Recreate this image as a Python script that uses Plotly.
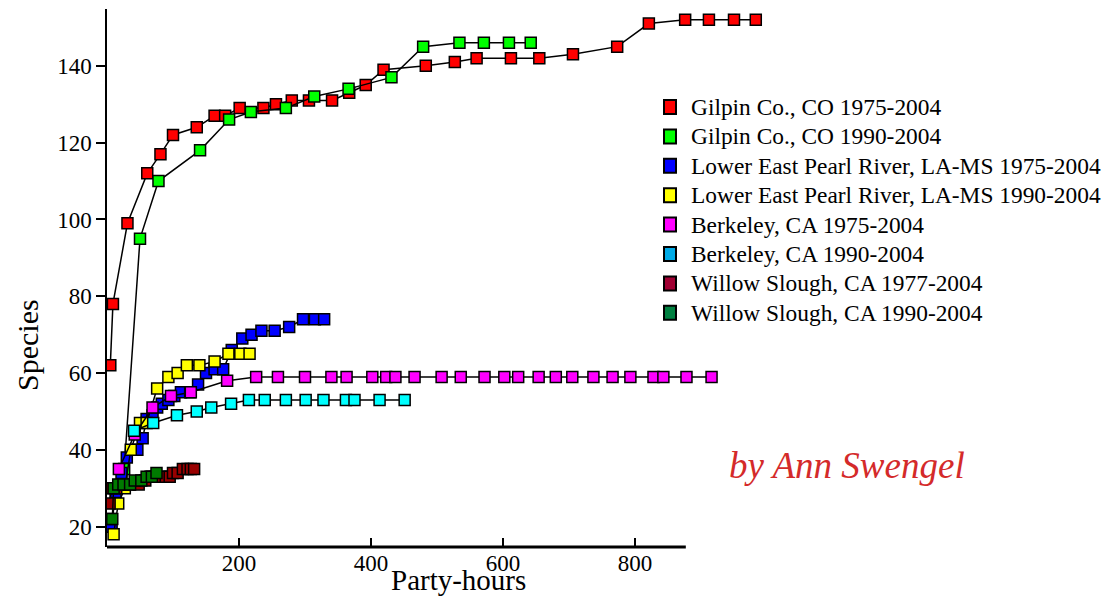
import plotly.graph_objects as go

# ---------------- data ----------------
gilpin75_x = [5, 9, 31, 61, 81, 100, 136, 163, 179, 201, 237, 256, 280, 306, 341, 367, 392, 419,
              483, 527, 560, 612, 655, 706, 773, 821, 876, 912, 950, 983]
gilpin75_y = [62, 78, 99, 112, 117, 122, 124, 127, 127, 129, 129, 130, 131, 131, 131, 133, 135, 139,
              140, 141, 142, 142, 142, 143, 145, 151, 152, 152, 152, 152]

gilpin90_x = [26, 50, 78, 141, 185, 218, 271, 314, 366, 431, 479, 534, 571, 609, 642]
gilpin90_y = [35, 95, 110, 118, 126, 128, 129, 132, 134, 137, 145, 146, 146, 146, 146]

pearl75_x = [7, 13, 22, 30, 46, 54, 60, 69, 76, 83, 93, 102, 112, 126, 138, 150, 163, 176, 189,
             205, 219, 234, 254, 276, 297, 315, 329]
pearl75_y = [20, 29, 34, 38, 40, 43, 48, 49, 51, 52, 53, 54, 55, 55, 57, 60, 61, 61, 66,
             69, 70, 71, 71, 72, 74, 74, 74]

pearl90_x = [10, 17, 27, 36, 50, 60, 76, 93, 107, 121, 140, 163, 184, 202, 216]
pearl90_y = [18, 26, 30, 40, 47, 47, 56, 59, 60, 62, 62, 63, 65, 65, 65]

berk75_x = [18, 42, 69, 97, 127, 182, 226, 259, 300, 340, 363, 402, 423, 437, 466, 507, 536, 572,
            602, 623, 654, 680, 705, 737, 766, 793, 828, 843, 878, 916]
berk75_y = [35, 44, 51, 54, 55, 58, 59, 59, 59, 59, 59, 59, 59, 59, 59, 59, 59, 59,
            59, 59, 59, 59, 59, 59, 59, 59, 59, 59, 59, 59]

berk90_x = [41, 70, 106, 136, 158, 188, 215, 239, 271, 301, 328, 362, 375, 413, 451]
berk90_y = [45, 47, 49, 50, 51, 52, 53, 53, 53, 53, 53, 53, 53, 53, 53]

willow77_x = [4, 7, 14, 24, 34, 48, 58, 66, 74, 83, 89, 95, 100, 107, 115, 122, 127, 132]
willow77_y = [26, 30, 30, 31, 31, 31, 32, 33, 33, 33, 33, 33, 34, 34, 35, 35, 35, 35]

willow90_x = [4, 8, 10, 17, 25, 35, 42, 52, 60, 68, 75]
willow90_y = [22, 22, 30, 31, 31, 31, 32, 32, 33, 33, 34]

names = ["Gilpin Co., CO 1975-2004", "Gilpin Co., CO 1990-2004",
         "Lower East Pearl River, LA-MS 1975-2004", "Lower East Pearl River, LA-MS 1990-2004",
         "Berkeley, CA 1975-2004", "Berkeley, CA 1990-2004",
         "Willow Slough, CA 1977-2004", "Willow Slough, CA 1990-2004"]
xs = [gilpin75_x, gilpin90_x, pearl75_x, pearl90_x, berk75_x, berk90_x, willow77_x, willow90_x]
ys = [gilpin75_y, gilpin90_y, pearl75_y, pearl90_y, berk75_y, berk90_y, willow77_y, willow90_y]
colors = ["#ff0000", "#00ff00", "#0000ff", "#ffff00", "#ff00ff", "#00ffff", "#990000", "#007a00"]
legend_colors = ["#ff0000", "#00ff00", "#0000ff", "#ffff00", "#ff00ff", "#00aae6", "#a00032", "#008040"]

x_ticks = [200, 400, 600, 800]
y_ticks = [20, 40, 60, 80, 100, 120, 140]
x_range = [0, 1000]
y_range = [14.7, 154.8]
x_axis_end = 877

FONT = "Liberation Serif, Times New Roman, serif"

# page body has an 8px margin: work in reference pixels and shift
OFF = 8
W, H = 1115, 596
L, T = 107 - OFF, 9 - OFF
plot_w, plot_h = 660, 538
BOT = T + plot_h


def px(xp):
    return (xp - OFF - L) / plot_w


def py(yp):
    return (BOT - (yp - OFF)) / plot_h


fig = go.Figure()
for x, y, c in zip(xs, ys, colors):
    fig.add_trace(go.Scatter(
        x=x, y=y, mode="lines+markers", showlegend=False,
        line=dict(color="black", width=1.5),
        marker=dict(symbol="square", size=11, color=c, line=dict(color="black", width=1.5)),
        hoverinfo="skip"))

# x-axis baseline (shorter than plotting area as in original)
fig.add_shape(type="line", xref="x", yref="paper", x0=0, x1=x_axis_end, y0=0, y1=0,
              line=dict(color="black", width=3))

annotations = [
    dict(text="Species", xref="paper", yref="paper", x=px(27), y=py(345), textangle=-90,
         showarrow=False, font=dict(family=FONT, size=30), xanchor="center", yanchor="middle"),
    dict(text="Party-hours", xref="paper", yref="paper", x=px(458), y=py(580),
         showarrow=False, font=dict(family=FONT, size=29), xanchor="center", yanchor="middle"),
    dict(text="<i>by Ann Swengel</i>", xref="paper", yref="paper", x=px(847), y=py(465),
         showarrow=False, font=dict(family=FONT, size=37, color="#d42a2a"),
         xanchor="center", yanchor="middle"),
]

# manual legend
row0, row_gap = 107, 29.4
for i, (n, c) in enumerate(zip(names, legend_colors)):
    yc = row0 + row_gap * i
    fig.add_shape(type="rect", xref="paper", yref="paper",
                  x0=px(664), x1=px(676), y0=py(yc + 7), y1=py(yc - 7),
                  fillcolor=c, line=dict(color="black", width=2))
    annotations.append(dict(text=n, xref="paper", yref="paper", x=px(689), y=py(yc),
                            showarrow=False, xanchor="left", yanchor="middle",
                            font=dict(family=FONT, size=23.4)))

fig.update_layout(
    width=W, height=H,
    margin=dict(l=L, r=W - L - plot_w, t=T, b=H - BOT),
    paper_bgcolor="white", plot_bgcolor="white",
    showlegend=False,
    font=dict(family=FONT, color="black", size=23),
    xaxis=dict(range=x_range, tickvals=x_ticks, ticks="inside", ticklen=9, tickwidth=2,
               tickcolor="black", showline=False, showgrid=False, zeroline=False,
               tickfont=dict(family=FONT, size=23)),
    yaxis=dict(range=y_range, tickvals=y_ticks, ticks="outside", ticklen=9, tickwidth=1.5,
               tickcolor="black", showline=True, linecolor="black", linewidth=1.5,
               showgrid=False, zeroline=False, tickfont=dict(family=FONT, size=23)),
    annotations=annotations,
)

fig.write_html("out.html")
